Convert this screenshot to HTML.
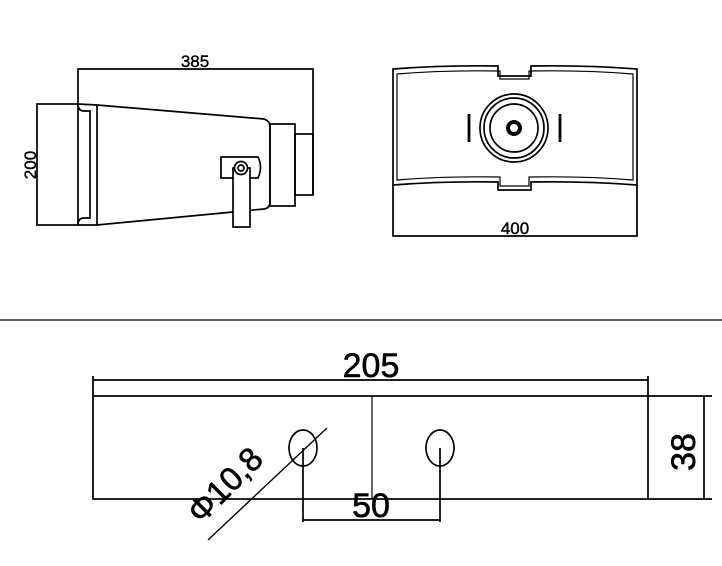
<!DOCTYPE html>
<html><head><style>body{margin:0;background:#fff}svg{display:block}</style></head><body>
<svg width="722" height="566" viewBox="0 0 722 566" xmlns="http://www.w3.org/2000/svg" font-family="Liberation Sans, sans-serif" fill="none" stroke="#000">
<!-- side view -->
<g stroke-width="1.7">
<path d="M78 104V69H313V195"/>
<rect x="37" y="104" width="41" height="121"/>
<path d="M78 104 Q78 111 84 111 H90 V218 H84 Q78 218 78 225"/>
<path d="M78 104 L97 105 L264 119 Q270 121 270 127 V202 Q270 208 264 209 L97 225 L78 225"/>
<line x1="97" y1="105" x2="97" y2="225"/>
<rect x="270" y="124" width="25" height="82"/>
<rect x="295" y="134" width="18" height="61"/>
<path d="M221 157 H258 Q263 167 258 178 H221 Z" fill="#fff"/>
<rect x="233" y="168" width="17" height="59" fill="#fff"/>
<circle cx="241" cy="168" r="6.5" fill="#fff"/>
<circle cx="241" cy="168" r="3"/>
</g>
<g fill="#000" stroke="#000" stroke-width="0.4">
<text x="195" y="67" font-size="17" text-anchor="middle">385</text>
<text transform="translate(36,165) rotate(-90)" font-size="17" text-anchor="middle">200</text>
<text x="515" y="234" font-size="17" text-anchor="middle">400</text>
</g>
<!-- front view -->
<g stroke-width="1.7">
<path d="M393 69 Q445 65 498 66 V76 H531 V66 Q585 65 637 69 V185 Q585 181 531 182 V190 H498 V182 Q445 181 393 185 Z"/>
<path d="M397 74 Q445 70 500 71 V79 H529 V71 Q585 70 633 74 V180 Q585 176 529 177 V186 H500 V177 Q445 176 397 180 Z" stroke-width="1.2"/>
<path d="M393 185V236H637V185"/>
<circle cx="514" cy="128" r="34"/>
<circle cx="514" cy="128" r="30"/>
<circle cx="514" cy="128" r="24"/>
<circle cx="514" cy="128" r="6" stroke-width="4"/>
<line x1="469" y1="114" x2="469" y2="142" stroke-width="2.8"/>
<line x1="560" y1="114" x2="560" y2="142" stroke-width="2.8"/>
</g>
<line x1="0" y1="320" x2="722" y2="320" stroke-width="1.2"/>
<!-- bottom view -->
<g stroke-width="1.7">
<rect x="93" y="396" width="555" height="103"/>
<path d="M93 376V396M648 376V396M93 380H648"/>
<line x1="372" y1="396" x2="372" y2="499" stroke-width="1.2"/>
<ellipse cx="303" cy="448" rx="14" ry="18"/>
<ellipse cx="440" cy="448" rx="14" ry="18"/>
<path d="M303 448V522M440 448V522M303 520H440"/>
<path d="M648 396H712M648 499H712M704 396V499"/>
<line x1="327" y1="428" x2="208" y2="540" stroke-width="1.4"/>
</g>
<g fill="#000" stroke="#000" stroke-width="0.6">
<text x="371" y="377" font-size="34" text-anchor="middle">205</text>
<text x="371" y="517" font-size="34" text-anchor="middle">50</text>
<text transform="translate(695,452) rotate(-90)" font-size="34" text-anchor="middle">38</text>
<text transform="translate(233,493) rotate(-45)" font-size="33" text-anchor="middle">Φ10,8</text>
</g>
</svg>
</body></html>
